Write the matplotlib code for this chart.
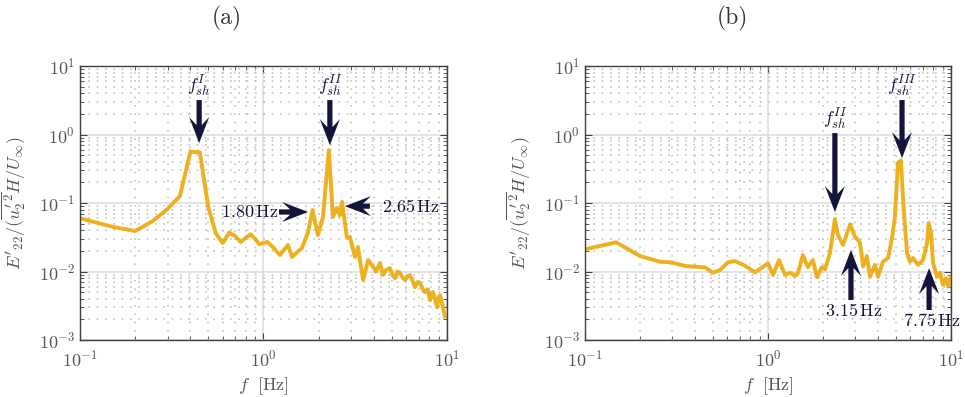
import matplotlib
matplotlib.use('Agg')
import numpy as np
import matplotlib.pyplot as plt
from matplotlib.patches import Polygon
from matplotlib.transforms import IdentityTransform
from matplotlib.ticker import LogLocator, NullFormatter

# 字体：Computer Modern 风格
plt.rcParams['font.family'] = 'serif'
plt.rcParams['font.serif'] = ['cmr10']
plt.rcParams['mathtext.fontset'] = 'cm'
plt.rcParams['axes.formatter.use_mathtext'] = True
plt.rcParams['axes.unicode_minus'] = False

# (a) 谱数据
freq_a = [0.10, 0.15, 0.20, 0.25, 0.30, 0.35, 0.40, 0.45, 0.50, 0.55,
          0.60, 0.65, 0.70, 0.75, 0.80, 0.85, 0.90, 0.95, 1.00, 1.05,
          1.12, 1.23, 1.30, 1.36, 1.43, 1.52, 1.62, 1.75, 1.85, 1.98,
          2.11, 2.27, 2.39, 2.51, 2.61, 2.68, 2.85, 2.96, 3.15, 3.27,
          3.49, 3.72, 3.95, 4.10, 4.31, 4.48, 4.65, 4.89, 5.05, 5.21,
          5.38, 5.55, 5.72, 5.91, 6.10, 6.29, 6.50, 6.69, 6.90, 7.13,
          7.35, 7.59, 7.85, 8.08, 8.39, 8.60, 8.83, 9.00, 9.17, 9.35,
          9.51, 9.75]
psd_a = [0.060, 0.045, 0.039, 0.055, 0.082, 0.126, 0.56, 0.55, 0.087, 0.036,
         0.026, 0.037, 0.033, 0.027, 0.031, 0.035, 0.030, 0.025, 0.026, 0.027,
         0.023, 0.0174, 0.021, 0.0244, 0.0163, 0.019, 0.022, 0.0378, 0.079, 0.034,
         0.0625, 0.594, 0.0625, 0.0845, 0.066, 0.104, 0.031, 0.032, 0.0163, 0.0228,
         0.0075, 0.0147, 0.0118, 0.0100, 0.0133, 0.0089, 0.0105, 0.0112, 0.0088, 0.0080,
         0.0100, 0.0095, 0.0082, 0.0075, 0.0085, 0.0089, 0.0072, 0.0059, 0.0070, 0.0068,
         0.0056, 0.0050, 0.0055, 0.0038, 0.0050, 0.0040, 0.0030, 0.0042, 0.0045, 0.0036,
         0.0030, 0.0022]

# (b) 谱数据
freq_b = [0.10, 0.148, 0.20, 0.257, 0.295, 0.356, 0.453, 0.50, 0.547, 0.604,
          0.66, 0.759, 0.849, 1.00, 1.065, 1.148, 1.24, 1.32, 1.41, 1.46,
          1.55, 1.65, 1.76, 1.85, 1.97, 2.05, 2.18, 2.32, 2.41, 2.57,
          2.81, 2.99, 3.18, 3.31, 3.47, 3.61, 3.84, 3.99, 4.25, 4.53,
          4.76, 4.94, 5.13, 5.33, 5.47, 5.75, 5.97, 6.20, 6.61, 7.03,
          7.40, 7.55, 7.78, 7.98, 8.38, 8.71, 9.04, 9.40, 9.63, 10.0]
psd_b = [0.0211, 0.0267, 0.0168, 0.0139, 0.0136, 0.0120, 0.0115, 0.0096, 0.0105, 0.0136,
         0.0142, 0.0119, 0.0097, 0.0132, 0.0089, 0.0147, 0.0089, 0.0096, 0.0086, 0.0096,
         0.0174, 0.0116, 0.0147, 0.0083, 0.0116, 0.0108, 0.0186, 0.058, 0.034, 0.0244,
         0.049, 0.032, 0.0265, 0.0118, 0.0168, 0.0084, 0.0125, 0.0084, 0.0139, 0.0157,
         0.0308, 0.063, 0.384, 0.42, 0.111, 0.0186, 0.0139, 0.0157, 0.0125, 0.0147,
         0.026, 0.051, 0.0365, 0.0133, 0.0084, 0.0096, 0.0064, 0.0080, 0.0060, 0.0084]

navy = '#14143a'
lineColor = '#EDB120'

fig = plt.figure(figsize=(9.65, 3.97), dpi=100)
axA = fig.add_axes([0.0829, 0.1436, 0.3803, 0.690])
axB = fig.add_axes([0.6062, 0.1436, 0.3793, 0.690])

def styleAxes(ax):
    ax.set_xscale('log')
    ax.set_yscale('log')
    ax.set_xlim(0.1, 10)
    ax.set_ylim(1e-3, 10)
    ax.xaxis.set_minor_locator(LogLocator(base=10, subs=range(2, 10)))
    ax.yaxis.set_minor_locator(LogLocator(base=10, subs=range(2, 10)))
    ax.xaxis.set_minor_formatter(NullFormatter())
    ax.yaxis.set_minor_formatter(NullFormatter())
    ax.grid(True, which='major', color='#dcdcdc', lw=1.1)
    ax.grid(True, which='minor', color='#c4c4c4', lw=1.2, linestyle=(0, (1, 4)))
    ax.set_axisbelow(True)
    ax.tick_params(which='both', direction='in', top=True, right=True,
                   colors='#404040', labelcolor='#555555', labelsize=13)
    ax.tick_params(which='major', length=5)
    ax.tick_params(which='minor', length=3)
    ax.tick_params(axis='x', which='major', pad=6)
    for s in ax.spines.values():
        s.set_color('#404040')
        s.set_linewidth(1.0)
    ax.set_xlabel(r'$f\ \ [\mathrm{Hz}]$', fontsize=13, color='#555555')
    ax.set_ylabel(r"$E'_{22}/(\overline{u_2'^2}H/U_\infty)$", fontsize=13, color='#555555')
    ax.xaxis.set_label_coords(0.5, -0.13)
    ax.yaxis.set_label_coords(-0.142, 0.5)

def arrow(ax, tail, tip, headLen=26, headHalf=10, notch=8, shaftHalf=2.6):
    # 凹尾箭头，按像素画
    p0 = ax.transData.transform(tail)
    p1 = ax.transData.transform(tip)
    d = (p1 - p0) / np.hypot(*(p1 - p0))
    n = np.array([-d[1], d[0]])
    base = p1 - d * headLen
    notchPt = base + d * notch
    verts = [p0 + n * shaftHalf,
             notchPt + n * shaftHalf,
             base + n * headHalf,
             p1,
             base - n * headHalf,
             notchPt - n * shaftHalf,
             p0 - n * shaftHalf]
    poly = Polygon(verts, closed=True, facecolor=navy, edgecolor='none',
                   transform=IdentityTransform(), clip_on=False, zorder=5)
    ax.add_artist(poly)

for ax in (axA, axB):
    styleAxes(ax)

axA.plot(freq_a, psd_a, color=lineColor, lw=2.8, solid_joinstyle='round')
axB.plot(freq_b, psd_b, color=lineColor, lw=2.8, solid_joinstyle='round')

# (a) 标注
arrow(axA, (0.446, 3.19), (0.446, 0.75))
axA.text(0.446, 3.3, r'$f_{sh}^{I}$', color=navy, fontsize=13, ha='center', va='bottom')
arrow(axA, (2.30, 3.19), (2.30, 0.70))
axA.text(2.30, 3.3, r'$f_{sh}^{II}$', color=navy, fontsize=13, ha='center', va='bottom')
arrow(axA, (1.215, 0.074), (1.75, 0.074))
axA.text(1.20, 0.074, r'$1.80\,\mathrm{Hz}$', color=navy, fontsize=13, ha='right', va='center')
arrow(axA, (3.80, 0.090), (2.78, 0.090))
axA.text(4.4, 0.090, r'$2.65\,\mathrm{Hz}$', color=navy, fontsize=13, ha='left', va='center')

# (b) 标注
arrow(axB, (2.32, 1.05), (2.32, 0.074))
axB.text(2.32, 1.08, r'$f_{sh}^{II}$', color=navy, fontsize=13, ha='center', va='bottom')
arrow(axB, (5.40, 3.19), (5.40, 0.454))
axB.text(5.40, 3.3, r'$f_{sh}^{III}$', color=navy, fontsize=13, ha='center', va='bottom')
arrow(axB, (2.84, 0.00384), (2.84, 0.0206))
axB.text(2.95, 0.0036, r'$3.15\,\mathrm{Hz}$', color=navy, fontsize=13, ha='center', va='top')
arrow(axB, (7.59, 0.00274), (7.59, 0.0112))
axB.text(7.85, 0.0026, r'$7.75\,\mathrm{Hz}$', color=navy, fontsize=13, ha='center', va='top',
         clip_on=False)

fig.text(227 / 965, 1 - 18 / 397, '(a)', fontsize=17, ha='center', va='center', color='#333333')
fig.text(732 / 965, 1 - 18 / 397, '(b)', fontsize=17, ha='center', va='center', color='#333333')

plt.savefig('out.png', dpi=100)
